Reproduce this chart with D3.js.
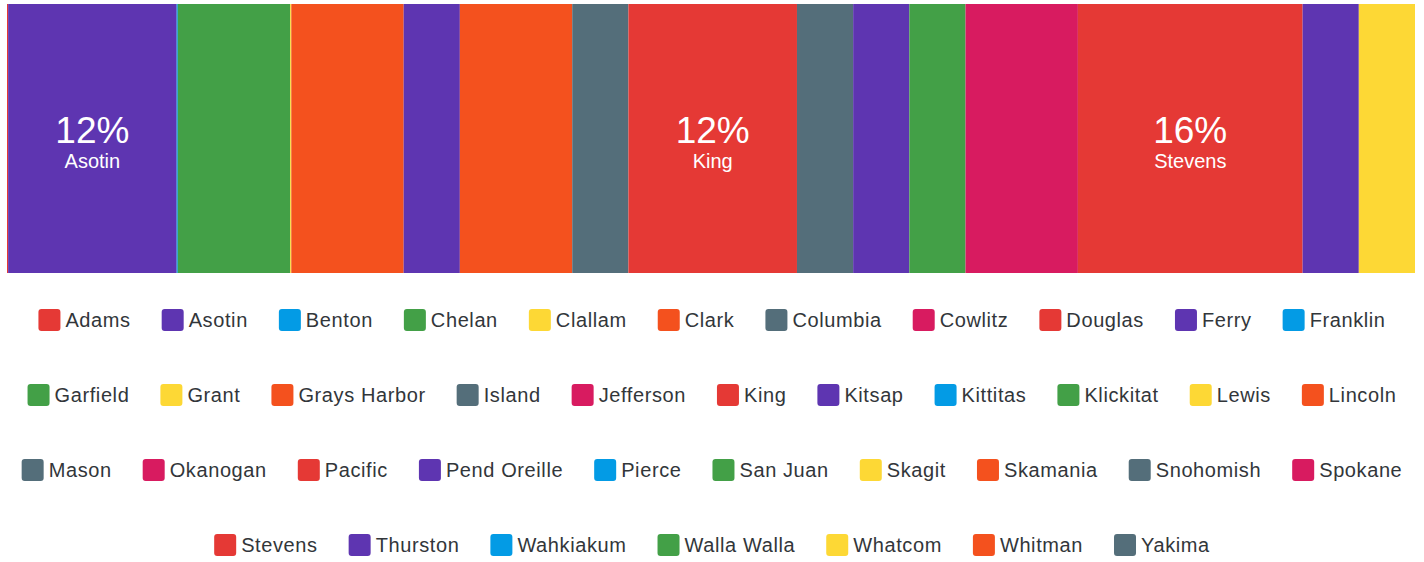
<!DOCTYPE html>
<meta charset="utf-8">
<style>
  body { margin: 0; background: #fff; }
  text { font-family: "Liberation Sans", Arial, sans-serif; }
  .legend text { font-size: 20px; letter-spacing: 0.6px; fill: #32363a; }
  .lbl { fill: #fff; }
</style>
<svg width="1424" height="562"></svg>
<script src="https://d3js.org/d3.v7.min.js"></script>
<script>
var width = 1424;
var height = 562;

// counties (legend order) and their counts in the bar
var counties = ["Adams", "Asotin", "Benton", "Chelan", "Clallam", "Clark", "Columbia", "Cowlitz",
  "Douglas", "Ferry", "Franklin", "Garfield", "Grant", "Grays Harbor", "Island", "Jefferson",
  "King", "Kitsap", "Kittitas", "Klickitat", "Lewis", "Lincoln", "Mason", "Okanogan",
  "Pacific", "Pend Oreille", "Pierce", "San Juan", "Skagit", "Skamania", "Snohomish", "Spokane",
  "Stevens", "Thurston", "Wahkiakum", "Walla Walla", "Whatcom", "Whitman", "Yakima"];

var counts = [0.02, 3, 0.02, 2, 0.02, 2, 0, 0,
  0, 1, 0, 0, 0, 2, 1, 0,
  3, 0, 0, 0, 0, 0, 1, 0,
  0, 1, 0, 1, 0, 0, 0, 2,
  4, 1, 0, 0, 1, 0, 0];

var palette = ["#e53935", "#5e35b1", "#039be5", "#43a047", "#fdd835", "#f4511e", "#546e7a", "#d81b60"];

var svg = d3.select("svg");

var color = d3.scaleOrdinal().domain(counties).range(palette);

var data = counties.map(function(c, i) { return { name: c, value: counts[i] }; });
var total = d3.sum(counts.map(Math.round));
var cum = 0;
data.forEach(function(d) { d.x0 = cum; cum += d.value; d.x1 = cum; });

var x = d3.scaleLinear().domain([0, cum]).range([7, 1415]);
var barTop = 4, barBottom = 273;

/* ---- bar ---- */
var seg = svg.append("g").selectAll("g")
  .data(data.filter(function(d) { return d.value > 0; }))
  .enter().append("g");

seg.append("rect")
  .attr("x", function(d) { return x(d.x0); })
  .attr("y", barTop)
  .attr("width", function(d) { return Math.max(1, x(d.x1) - x(d.x0)); })
  .attr("height", barBottom - barTop)
  .attr("fill", function(d) { return color(d.name); });

var big = seg.filter(function(d) { return d.value / total > 0.1; });
big.append("text")
  .attr("class", "lbl")
  .attr("x", function(d) { return (x(d.x0) + x(d.x1)) / 2; })
  .attr("y", 143)
  .attr("text-anchor", "middle")
  .style("font-size", "37px")
  .text(function(d) { return Math.round(d.value / total * 100) + "%"; });
big.append("text")
  .attr("class", "lbl")
  .attr("x", function(d) { return (x(d.x0) + x(d.x1)) / 2; })
  .attr("y", 168)
  .attr("text-anchor", "middle")
  .style("font-size", "20px")
  .text(function(d) { return d.name; });

/* ---- legend ---- */
var legend = svg.append("g").attr("class", "legend");
var items = legend.selectAll("g").data(counties).enter().append("g");
items.append("rect")
  .attr("width", 22).attr("height", 22)
  .attr("rx", 3).attr("ry", 3)
  .attr("y", -11)
  .attr("fill", function(d) { return color(d); });
items.append("text")
  .attr("x", 27)
  .attr("dy", "0.35em")
  .text(function(d) { return d; });

var gap = 31, maxW = 1400, rowY = [320, 395, 470, 545];
var rows = [[]], rowW = [0];
items.each(function(d) {
  var w = 27 + this.querySelector("text").getComputedTextLength();
  var r = rows.length - 1;
  var need = rowW[r] === 0 ? w : rowW[r] + gap + w;
  if (need > maxW) { rows.push([]); rowW.push(0); r++; need = w; }
  rows[r].push({ node: this, w: w });
  rowW[r] = need;
});
rows.forEach(function(row, r) {
  var cx = (width - rowW[r]) / 2;
  row.forEach(function(it) {
    d3.select(it.node).attr("transform", "translate(" + cx + "," + rowY[r] + ")");
    cx += it.w + gap;
  });
});
</script>
